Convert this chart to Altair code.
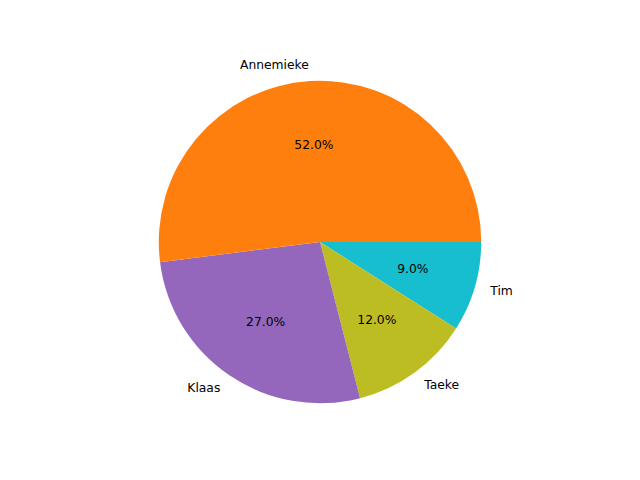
import pandas as pd
import altair as alt
import math

names = ['Tim', 'Taeke', 'Klaas', 'Annemieke']
shares = [9.0, 12.0, 27.0, 52.0]
colors = ['#17becf', '#bcbd22', '#9467bd', '#ff7f0e']
sides = ['left', 'left', 'right', 'right']

df = pd.DataFrame({'name': names, 'share': shares, 'ord': range(4), 'side': sides})
df['pct'] = df['share'].map(lambda v: f'{v:.1f}%')

R = 170
tscale = alt.Scale(domain=[0, 100], range=[math.pi / 2, math.pi / 2 + 2 * math.pi])

base = alt.Chart(df).transform_stack(
    stack='share', groupby=[], sort=[alt.SortField('ord')], as_=['s0', 's1']
).transform_calculate(mid='(datum.s0 + datum.s1) / 2')

pie = base.mark_arc(outerRadius=R).encode(
    theta=alt.Theta('s0:Q', scale=tscale), theta2='s1:Q',
    color=alt.Color('name:N', scale=alt.Scale(domain=names, range=colors), legend=None)
)
txt = base.encode(theta=alt.Theta('mid:Q', scale=tscale))
pcts = txt.mark_text(radius=0.6 * R, font='DejaVu Sans', fontSize=13, color='black').encode(text='pct:N')
lab_l = txt.mark_text(radius=1.1 * R, font='DejaVu Sans', fontSize=13, align='left', color='black').encode(
    text='name:N').transform_filter(alt.datum.side == 'left')
lab_r = txt.mark_text(radius=1.1 * R, font='DejaVu Sans', fontSize=13, align='right', color='black').encode(
    text='name:N').transform_filter(alt.datum.side == 'right')

chart = alt.layer(pie, pcts, lab_l, lab_r).properties(
    width=658, height=468, padding=0, autosize='none', background='white'
).configure_view(stroke=None)

chart.save("out.html", embed_options={"renderer": "svg", "actions": False})
